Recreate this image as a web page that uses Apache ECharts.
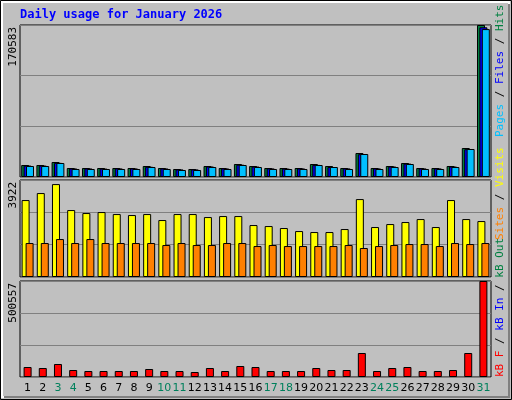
<!DOCTYPE html>
<html><head><meta charset="utf-8">
<script src="https://cdn.jsdelivr.net/npm/echarts@6/dist/echarts.min.js"></script>
<style>html,body{margin:0;padding:0;background:#fff}#c{width:512px;height:400px}</style>
</head><body><div id="c"></div>
<script>
const days = ['1','2','3','4','5','6','7','8','9','10','11','12','13','14','15','16','17','18','19','20','21','22','23','24','25','26','27','28','29','30','31']
const weekend = ['3','4','10','11','17','18','24','25','31']
const hits = [13464,13464,16830,10098,10098,10098,10098,10098,12342,10098,8976,8976,12342,10098,14586,12342,10098,10098,10098,14586,12342,10098,26928,10098,12342,15708,10098,10098,12342,32538,170583]
const files = [12800,12800,15900,9600,9600,9400,9600,9600,11500,9600,8500,8500,11800,9600,13800,11700,9600,9400,9600,13600,11200,9600,25600,9600,11800,15000,9600,9600,11700,31200,168000]
const pages = [12342,12342,15708,8976,8976,8976,8976,8976,11220,8976,7854,7854,11220,8976,13464,11220,8976,8976,8976,13464,11220,8976,25806,8976,11220,14586,8976,8976,11220,31416,166000]
const visits = [3111,3394,3757,2707,2586,2626,2545,2505,2545,2303,2545,2545,2424,2464,2464,2101,2060,1980,1858,1818,1818,1939,3151,2020,2141,2222,2343,2020,3111,2343,2262]
const sites = [1374,1374,1535,1374,1535,1374,1374,1374,1374,1293,1374,1293,1293,1374,1374,1252,1293,1252,1252,1252,1252,1293,1172,1252,1293,1333,1333,1252,1374,1333,1374]
const kbytes = [52140,46926,67782,36498,31284,31284,31284,31284,41712,31284,31284,26070,46926,31284,57354,52140,31284,31284,31284,46926,36498,36498,125136,31284,46926,52140,31284,31284,36498,125136,500557]
const maxHits = 170583, maxVisits = 3922, maxKB = 500557

const font = 'DejaVu Sans Mono'
const chart = echarts.init(document.getElementById('c'))

const grids = [
  { left: 20, top: 25, width: 471, height: 152 },
  { left: 20, top: 180, width: 471, height: 97 },
  { left: 20, top: 281, width: 471, height: 96 }
].map(g => Object.assign({ show: true, borderColor: '#000', borderWidth: 1, backgroundColor: '#C0C0C0' }, g))

const xAxis = [0, 1, 2].map(i => ({
  type: 'category', gridIndex: i, data: days,
  axisLine: { show: false }, axisTick: { show: false },
  axisLabel: {
    show: i === 2, interval: 0, fontFamily: 'DejaVu Sans', fontSize: 11, margin: 6,
    color: (v) => weekend.includes(v) ? '#00805C' : '#000'
  }
}))

const yAxis = [maxHits, maxVisits, maxKB].map((m, i) => ({
  type: 'value', gridIndex: i, min: 0, max: m, interval: m / 3,
  axisLabel: { show: false }, axisLine: { show: false }, axisTick: { show: false },
  splitLine: { lineStyle: { color: '#808080', width: 1 } }
}))

const bar = (name, data, color, idx, extra) => Object.assign({
  name, type: 'bar', data, xAxisIndex: idx, yAxisIndex: idx, barWidth: 8,
  itemStyle: { color, borderColor: '#000', borderWidth: 1 }, silent: true, animation: false
}, extra)

// rotated legend text reading bottom to top, starting at y
const sideLabel = (x, y, parts) => ({
  type: 'text', x, y, rotation: Math.PI / 2,
  style: {
    text: parts.map(p => `{${p[1]}|${p[0]}}`).join(''), align: 'left', verticalAlign: 'top',
    rich: Object.fromEntries(parts.map(p => [p[1], { fill: p[2], fontFamily: font, fontSize: 11 }]))
  }
})

chart.setOption({
  backgroundColor: '#C0C0C0',
  grid: grids, xAxis, yAxis,
  series: [
    bar('Hits', hits, '#008040', 0, { barGap: '-70%' }),
    bar('Files', files, '#0000FF', 0),
    bar('Pages', pages, '#00C0FF', 0),
    bar('Visits', visits, '#FFFF00', 1, { barGap: '-50%' }),
    bar('Sites', sites, '#FF8000', 1),
    bar('kB F', kbytes, '#FF0000', 2)
  ],
  graphic: [
    { type: 'rect', shape: { x: 0.5, y: 0.5, width: 511, height: 399 }, style: { fill: null, stroke: '#000', lineWidth: 1 } },
    { type: 'rect', shape: { x: 2, y: 2, width: 507, height: 395 }, style: { fill: null, stroke: '#fff', lineWidth: 2 } },
    { type: 'rect', shape: { x: 4, y: 396, width: 506, height: 2 }, style: { fill: '#808080' } },
    { type: 'rect', shape: { x: 508, y: 4, width: 2, height: 394 }, style: { fill: '#808080' } },
    { type: 'text', x: 20, y: 9, style: { text: 'Daily usage for January 2026', fill: '#0000FF', font: 'bold 12px "' + font + '"' } },
    { type: 'text', x: 8, y: 27, rotation: Math.PI / 2, style: { text: String(maxHits), fill: '#000', fontFamily: font, fontSize: 11, align: 'right', verticalAlign: 'top' } },
    { type: 'text', x: 8, y: 182, rotation: Math.PI / 2, style: { text: String(maxVisits), fill: '#000', fontFamily: font, fontSize: 11, align: 'right', verticalAlign: 'top' } },
    { type: 'text', x: 8, y: 283, rotation: Math.PI / 2, style: { text: String(maxKB), fill: '#000', fontFamily: font, fontSize: 11, align: 'right', verticalAlign: 'top' } },
    sideLabel(495, 137, [['Pages', 'p', '#00C0FF'], [' / ', 's1', '#000'], ['Files', 'f', '#0000FF'], [' / ', 's2', '#000'], ['Hits', 'h', '#008040']]),
    sideLabel(495, 240, [['Sites', 'si', '#FF8000'], [' / ', 's3', '#000'], ['Visits', 'v', '#FFFF00']]),
    sideLabel(495, 377, [['kB F', 'kf', '#FF0000'], [' / ', 's4', '#000'], ['kB In', 'ki', '#0000FF'], [' / ', 's5', '#000'], ['kB Out', 'ko', '#008040']])
  ]
})
</script></body></html>
